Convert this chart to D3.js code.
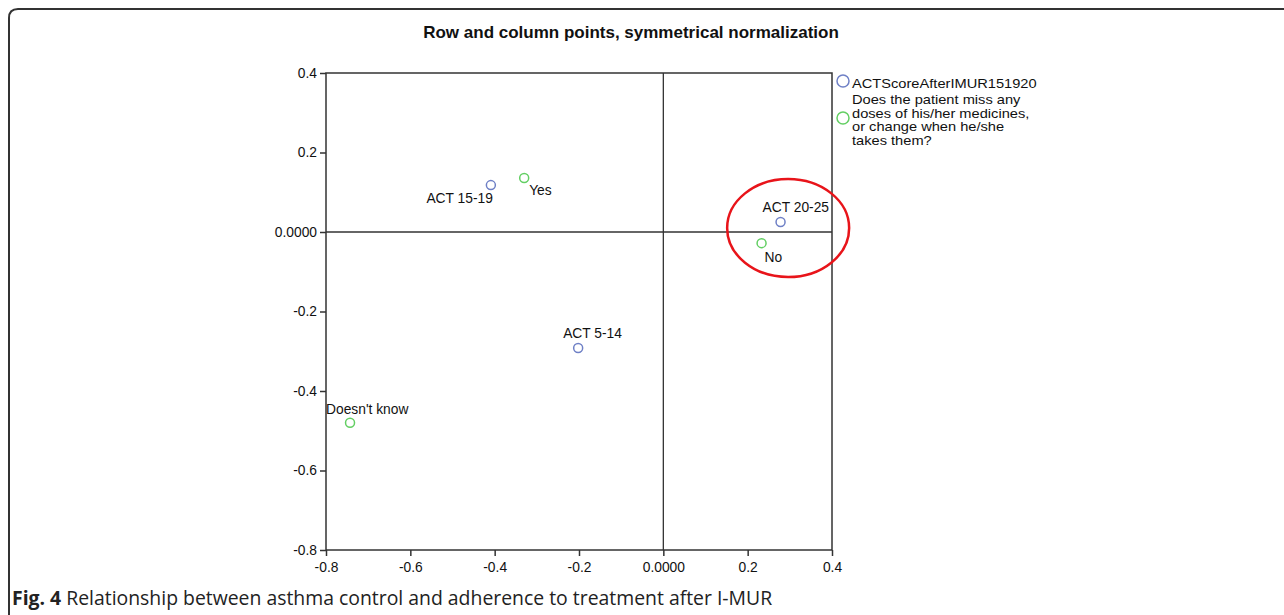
<!DOCTYPE html>
<html>
<head>
<meta charset="utf-8">
<script src="https://cdn.jsdelivr.net/npm/d3@7"></script>
<style>
  body { margin: 0; background: #fff; }
  svg { display: block; }
</style>
</head>
<body>
<svg width="1284" height="615"></svg>
<script>
const svg = d3.select("svg");

const width = 1284;
const height = 615;

// plot area
const margin = { top: 73, right: 452, bottom: 65, left: 326 };

const rowLabels = ["ACT 15-19", "ACT 20-25", "ACT 5-14"];
const rowX = [-0.409, 0.278, -0.202];
const rowY = [0.118, 0.025, -0.292];

const colLabels = ["Yes", "No", "Doesn't know"];
const colX = [-0.330, 0.233, -0.743];
const colY = [0.136, -0.028, -0.480];

const tickValues = [-0.8, -0.6, -0.4, -0.2, 0, 0.2, 0.4];
const legendLabels = ["ACTScoreAfterIMUR151920",
    "Does the patient miss any|doses of his/her medicines,|or change when he/she|takes them?"];

const blue = "#6f80c6";
const green = "#63cf63";
const font = "Liberation Sans, Arial, sans-serif";

const xScale = d3.scaleLinear()
    .domain([-0.8, 0.4])
    .range([margin.left, width - margin.right]);

const yScale = d3.scaleLinear()
    .domain([-0.8, 0.4])
    .range([height - margin.bottom, margin.top]);

// SPSS style: plain hyphen, zero shown as 0.0000
const fmt = d => d === 0 ? "0.0000" : d.toFixed(1);

// outer frame with rounded corner
svg.append("path")
    .attr("d", "M9,615 L9,18 Q9,9 18,9 L1284,9")
    .attr("fill", "none")
    .attr("stroke", "#333")
    .attr("stroke-width", 2);

svg.append("text")
    .attr("x", 631)
    .attr("y", 38)
    .attr("text-anchor", "middle")
    .style("font-family", font)
    .style("font-size", "17px")
    .style("font-weight", "bold")
    .attr("fill", "#111")
    .text("Row and column points, symmetrical normalization");

// plot box
svg.append("rect")
    .attr("x", xScale(-0.8))
    .attr("y", yScale(0.4))
    .attr("width", xScale(0.4) - xScale(-0.8))
    .attr("height", yScale(-0.8) - yScale(0.4))
    .attr("fill", "none")
    .attr("stroke", "#333")
    .attr("stroke-width", 1.5);

// reference lines
svg.append("line")
    .attr("x1", xScale(0)).attr("x2", xScale(0))
    .attr("y1", yScale(0.4)).attr("y2", yScale(-0.8))
    .attr("stroke", "#333").attr("stroke-width", 1.3);
svg.append("line")
    .attr("x1", xScale(-0.8)).attr("x2", xScale(0.4))
    .attr("y1", yScale(0)).attr("y2", yScale(0))
    .attr("stroke", "#333").attr("stroke-width", 1.3);

const xAxis = svg.append("g")
    .attr("transform", `translate(0,${yScale(-0.8)})`)
    .call(d3.axisBottom(xScale).tickValues(tickValues).tickFormat(fmt).tickSize(6).tickPadding(6));

const yAxis = svg.append("g")
    .attr("transform", `translate(${xScale(-0.8)},0)`)
    .call(d3.axisLeft(yScale).tickValues(tickValues).tickFormat(fmt).tickSize(6).tickPadding(3));

[xAxis, yAxis].forEach(g => {
    g.select(".domain").remove();
    g.selectAll("line").attr("stroke", "#333").attr("stroke-width", 1.5);
    g.selectAll("text")
        .style("font-family", font)
        .style("font-size", "13.8px")
        .attr("fill", "#111");
});

// points
const rows = rowLabels.map((l, i) => ({ label: l, x: rowX[i], y: rowY[i] }));
const cols = colLabels.map((l, i) => ({ label: l, x: colX[i], y: colY[i] }));

svg.selectAll(".rowpt")
    .data(rows)
    .enter()
    .append("circle")
    .attr("class", "rowpt")
    .attr("cx", d => xScale(d.x))
    .attr("cy", d => yScale(d.y))
    .attr("r", 4.5)
    .attr("fill", "none")
    .attr("stroke", blue)
    .attr("stroke-width", 1.5);

svg.selectAll(".colpt")
    .data(cols)
    .enter()
    .append("circle")
    .attr("class", "colpt")
    .attr("cx", d => xScale(d.x))
    .attr("cy", d => yScale(d.y))
    .attr("r", 4.5)
    .attr("fill", "none")
    .attr("stroke", green)
    .attr("stroke-width", 1.5);

// label offsets (dx, dy, anchor) per label
const labelOffsets = {
    "ACT 15-19": [2, 18, "end"],
    "ACT 20-25": [-18, -10, "start"],
    "ACT 5-14": [-15, -10, "start"],
    "Yes": [5, 17, "start"],
    "No": [3, 19, "start"],
    "Doesn't know": [-24, -9, "start"]
};

svg.selectAll(".ptlabel")
    .data(rows.concat(cols))
    .enter()
    .append("text")
    .attr("class", "ptlabel")
    .attr("x", d => xScale(d.x) + labelOffsets[d.label][0])
    .attr("y", d => yScale(d.y) + labelOffsets[d.label][1])
    .attr("text-anchor", d => labelOffsets[d.label][2])
    .style("font-family", font)
    .style("font-size", "13.8px")
    .attr("fill", "#111")
    .text(d => d.label);

// red highlight ellipse
svg.append("ellipse")
    .attr("cx", xScale(0.296))
    .attr("cy", yScale(0.01))
    .attr("rx", 61)
    .attr("ry", 49)
    .attr("fill", "none")
    .attr("stroke", "#e8141a")
    .attr("stroke-width", 2.5);

// legend (text a bit wide, like the SPSS output)
svg.append("circle")
    .attr("cx", 843).attr("cy", 81).attr("r", 6)
    .attr("fill", "none").attr("stroke", blue).attr("stroke-width", 1.5);
svg.append("circle")
    .attr("cx", 843).attr("cy", 118).attr("r", 6)
    .attr("fill", "none").attr("stroke", green).attr("stroke-width", 1.5);

const legText = svg.append("g")
    .attr("transform", "translate(852,0) scale(1.2,1)")
    .style("font-family", font)
    .style("font-size", "12.2px")
    .attr("fill", "#111");

legText.append("text")
    .attr("x", 0).attr("y", 88)
    .text(legendLabels[0]);

legText.selectAll(".legline")
    .data(legendLabels[1].split("|"))
    .enter()
    .append("text")
    .attr("class", "legline")
    .attr("x", 0)
    .attr("y", (d, i) => 104 + i * 13.6)
    .text(d => d);

// caption
const cap = svg.append("text")
    .attr("x", 12)
    .attr("y", 605)
    .style("font-family", "Open Sans, sans-serif")
    .style("font-size", "19.4px")
    .attr("fill", "#222");
cap.append("tspan").style("font-weight", "bold").text("Fig. 4");
cap.append("tspan").text(" Relationship between asthma control and adherence to treatment after I-MUR");
</script>
</body>
</html>
